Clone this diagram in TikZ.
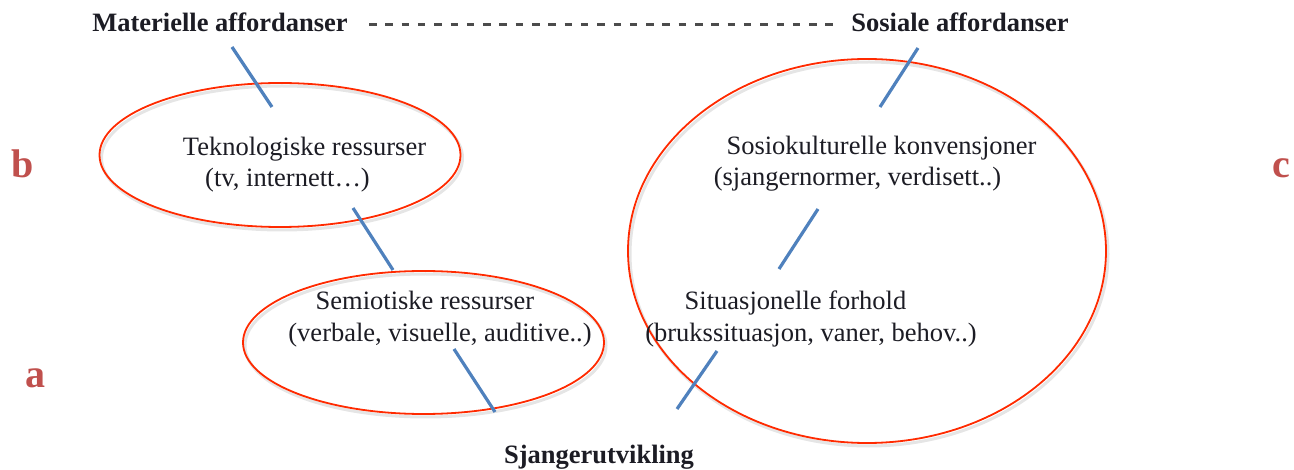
\documentclass[tikz,border=0pt]{standalone}
\usepackage{fontspec}
\setmainfont{Liberation Serif}
\usetikzlibrary{shapes.geometric}
\definecolor{ellred}{HTML}{FF2A00}
\definecolor{linkblue}{HTML}{4F81BD}
\definecolor{lblred}{HTML}{C0504D}
\definecolor{txt}{HTML}{1C1C24}
\begin{document}
\begin{tikzpicture}[x=1pt,y=-1pt,
  txtnode/.style={anchor=base,inner sep=0pt,outer sep=0pt,text=txt,font=\fontsize{26.5}{30}\selectfont},
  headnode/.style={txtnode,font=\fontsize{26.5}{30}\selectfont\bfseries},
  lblnode/.style={anchor=base west,inner sep=0pt,outer sep=0pt,text=lblred,font=\fontsize{40}{44}\selectfont\bfseries},
  ring/.style={draw=ellred,line width=1.8pt,ellipse,inner sep=0pt,outer sep=0pt},
  ringshadow/.style={draw=black,opacity=0.10,line width=3pt,ellipse,inner sep=0pt,outer sep=0pt},
  link/.style={draw=linkblue,line width=3.2pt},
  dashlink/.style={draw=black!70,line width=3pt,dash pattern=on 7.5pt off 8.8pt}
]
\useasboundingbox (0,0) rectangle (1294,470);

% ellipse shadows
\node[ringshadow,minimum width=361pt,minimum height=144pt] (ebs) at (282,158) {};
\node[ringshadow,minimum width=361pt,minimum height=143pt] (eas) at (425.5,345.5) {};
\node[ringshadow,minimum width=478pt,minimum height=384pt] (ecs) at (869,254) {};

% ellipses
\node[ring,minimum width=361pt,minimum height=144pt] (eb) at (280,155) {};
\node[ring,minimum width=361pt,minimum height=143pt] (ea) at (423.5,342.5) {};
\node[ring,minimum width=478pt,minimum height=384pt] (ec) at (867,251) {};

% headings
\node[headnode] (mat) at (220,32) {Materielle affordanser};
\node[headnode] (sos) at (960,32) {Sosiale affordanser};
\node[headnode] (sjg) at (599,463) {Sjangerutvikling};

% texts
\node[txtnode] (tek1) at (304.5,156) {Teknologiske ressurser};
\node[txtnode] (tek2) at (287.5,187) {(tv, internett…)};
\node[txtnode] (sk1) at (881.5,155) {Sosiokulturelle konvensjoner};
\node[txtnode] (sk2) at (857.5,186) {(sjangernormer, verdisett..)};
\node[txtnode] (sem1) at (425,310) {Semiotiske ressurser};
\node[txtnode] (sem2) at (440,342) {(verbale, visuelle, auditive..)};
\node[txtnode] (sit1) at (795.5,310) {Situasjonelle forhold};
\node[txtnode] (sit2) at (811,342) {(brukssituasjon, vaner, behov..)};

% labels
\node[lblnode] (lb) at (12,178) {b};
\node[lblnode] (la) at (25,388) {a};
\node[lblnode] (lc) at (1272,178) {c};

% connector end points
\coordinate (d1) at (369,25);
\coordinate (d2) at (835,25);
\coordinate (p1a) at (232,47);  \coordinate (p1b) at (272,107);
\coordinate (p2a) at (353,208); \coordinate (p2b) at (393,270);
\coordinate (p3a) at (454,349); \coordinate (p3b) at (495,412);
\coordinate (p4a) at (717,351); \coordinate (p4b) at (677,409);
\coordinate (p5a) at (918,48);  \coordinate (p5b) at (880,107);
\coordinate (p6a) at (818,209); \coordinate (p6b) at (779,269);

\draw[dashlink] (d1) -- (d2);
\draw[link] (p1a) -- (p1b);
\draw[link] (p2a) -- (p2b);
\draw[link] (p3a) -- (p3b);
\draw[link] (p4a) -- (p4b);
\draw[link] (p5a) -- (p5b);
\draw[link] (p6a) -- (p6b);
\end{tikzpicture}
\end{document}
